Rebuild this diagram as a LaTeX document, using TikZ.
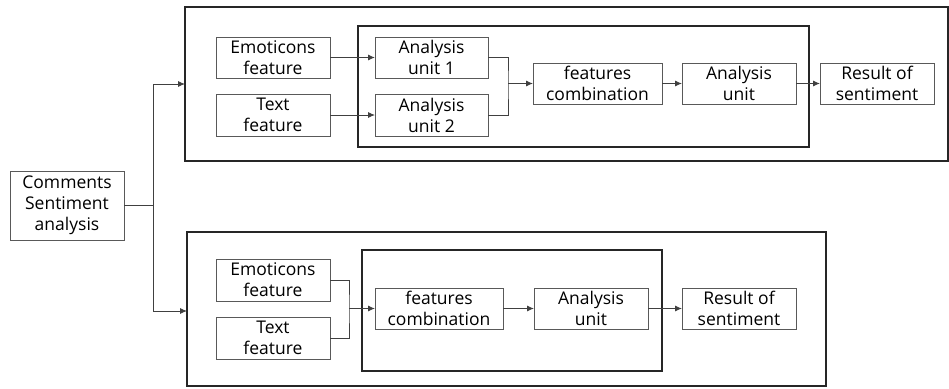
\documentclass[tikz,border=0pt]{standalone}
\usepackage{fontspec}
\setmainfont{Open Sans}
\usetikzlibrary{arrows.meta}
\begin{document}
\begin{tikzpicture}[x=1pt,y=-1pt,
  box/.style={draw=black!65, line width=0.8pt, inner sep=0pt, outer sep=0pt,
    align=center, font=\fontsize{17.5}{21}\selectfont},
  frame/.style={draw=black!85, line width=1.6pt, inner sep=0pt, outer sep=0pt},
  inframe/.style={draw=black!85, line width=1.3pt, inner sep=0pt, outer sep=0pt},
  link/.style={draw=black!75, line width=0.9pt},
  arr/.style={link, -{Latex[length=7pt,width=6pt]}}]
\useasboundingbox (0,0) rectangle (949,388);

% frames of the two pipelines
\node[frame, minimum width=763, minimum height=154] (topframe) at (566.5,84) {};
\node[inframe, minimum width=451, minimum height=121] (topinner) at (583.5,86.5) {};
\node[frame, minimum width=639, minimum height=154] (botframe) at (506.5,309) {};
\node[inframe, minimum width=300, minimum height=121] (botinner) at (512,310.5) {};

% source
\node[box, minimum width=114, minimum height=69] (src) at (67,205.5) {Comments\\Sentiment\\analysis};

% upper pipeline
\node[box, minimum width=114, minimum height=41] (emoA) at (273,57.5) {Emoticons\\feature};
\node[box, minimum width=114, minimum height=42] (txtA) at (273,115) {Text\\feature};
\node[box, minimum width=113, minimum height=41] (unit1) at (431.5,57.5) {Analysis\\unit 1};
\node[box, minimum width=113, minimum height=42] (unit2) at (431.5,115) {Analysis\\unit 2};
\node[box, minimum width=129, minimum height=41] (combA) at (597.5,83.5) {features\\combination};
\node[box, minimum width=114, minimum height=41] (anaA) at (739,83.5) {Analysis\\unit};
\node[box, minimum width=114, minimum height=41] (resA) at (877,83.5) {Result of\\sentiment};

% lower pipeline
\node[box, minimum width=114, minimum height=42] (emoB) at (273,280) {Emoticons\\feature};
\node[box, minimum width=114, minimum height=42] (txtB) at (273,338) {Text\\feature};
\node[box, minimum width=128, minimum height=41] (combB) at (439,308.5) {features\\combination};
\node[box, minimum width=114, minimum height=41] (anaB) at (591,308.5) {Analysis\\unit};
\node[box, minimum width=114, minimum height=41] (resB) at (739,308.5) {Result of\\sentiment};

% branch points
\coordinate (fork) at (153,205.5);
\coordinate (joinA) at (508,83.5);
\coordinate (joinB) at (349,308.5);

% split of the comments into both pipelines
\draw[link] (src.east) -- (fork);
\draw[arr] (fork) |- (topframe.west);
\draw[arr] (fork) |- (botframe.west |- 0,311);

% upper connectors
\draw[arr] (emoA.east) -- (unit1.west);
\draw[arr] (txtA.east) -- (unit2.west);
\draw[link] (unit1.east) -| (joinA) |- (unit2.east);
\draw[arr] (joinA) -- (combA.west);
\draw[arr] (combA.east) -- (anaA.west);
\draw[arr] (anaA.east) -- (resA.west);

% lower connectors
\draw[link] (emoB.east) -| (joinB) |- (txtB.east);
\draw[arr] (joinB) -- (combB.west);
\draw[arr] (combB.east) -- (anaB.west);
\draw[arr] (anaB.east) -- (resB.west);
\end{tikzpicture}
\end{document}
